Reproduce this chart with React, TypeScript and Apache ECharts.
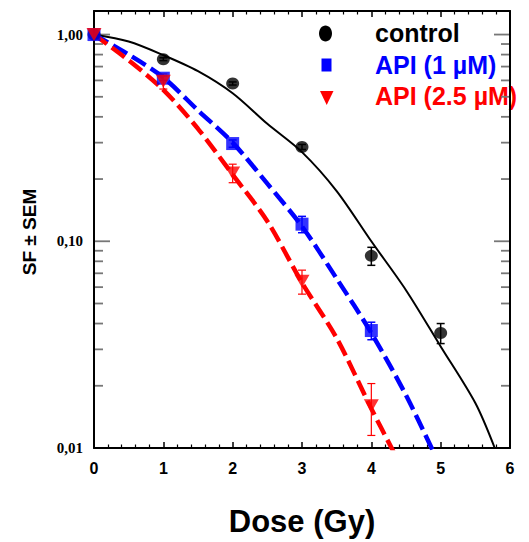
import React, { useEffect, useRef } from 'react';
import * as echarts from 'echarts';

// ---- measured data (Dose in Gy, surviving fraction) ----
const doses = [0, 1, 2, 3, 4, 5];
const controlSF = [1.0, 0.76, 0.58, 0.286, 0.085, 0.036];
const controlSEM = [0, 0.012, 0.01, 0.008, 0.0085, 0.004];

const apiDoses = [0, 1, 2, 3, 4];
const api1SF = [1.0, 0.615, 0.297, 0.121, 0.037];
const api1SEM = [0, 0.015, 0.012, 0.011, 0.0036];
const api25SF = [1.0, 0.595, 0.214, 0.064, 0.016];
const api25SEM = [0, 0.05, 0.022, 0.0085, 0.0045];

// ---- fitted curves ----
const controlFitX = [0, 0.5, 1, 1.5, 2, 2.5, 3, 3.5, 4, 4.5, 5, 5.5, 5.78];
const controlFitY = [1.0, 0.925, 0.795, 0.665, 0.52, 0.37, 0.27, 0.175, 0.1, 0.058, 0.031, 0.0165, 0.01];
const api1FitX = [0, 0.5, 1, 1.5, 2, 2.5, 3, 3.5, 4, 4.5, 4.9];
const api1FitY = [1.0, 0.8, 0.62, 0.43, 0.3, 0.19, 0.118, 0.066, 0.036, 0.018, 0.0095];
const api25FitX = [0, 0.5, 1, 1.5, 2, 2.5, 3, 3.5, 4, 4.32];
const api25FitY = [1.0, 0.75, 0.54, 0.35, 0.21, 0.125, 0.063, 0.034, 0.0155, 0.0096];

// ---- axis ticks / labels ----
const xTickValues = [0, 1, 2, 3, 4, 5, 6];
const yDecadeValues = [0.01, 0.1, 1];
const yDecadeLabels = ['0,01', '0,10', '1,00'];
const yMinorTicks = [0.02, 0.03, 0.04, 0.05, 0.06, 0.07, 0.08, 0.09, 0.2, 0.3, 0.4, 0.5, 0.6, 0.7, 0.8, 0.9];
const yMajorTicks = [0.1, 1];

const seriesNames = ['control', 'API (1 µM)', 'API (2.5 µM)'];
const seriesColors = ['#000000', '#0000ff', '#ff0000'];

const SANS = '"Liberation Sans", Arial, Helvetica, sans-serif';
const SERIF = '"Liberation Serif", "Times New Roman", serif';
const TRI_DOWN = 'path://M0,0L10,0L5,9Z';

function pairs(xs: number[], ys: number[]) {
  return xs.map((x, i) => [x, ys[i]]);
}
function errData(xs: number[], ys: number[], sem: number[]) {
  return xs
    .map((x, i) => [x, ys[i] - sem[i], ys[i] + sem[i]])
    .filter((d, i) => sem[i] > 0);
}

function errorBarSeries(name: string, data: number[][], color: string, width: number) {
  return {
    type: 'custom',
    name,
    data,
    encode: { x: 0, y: [1, 2] },
    z: 3,
    silent: true,
    renderItem: (params: any, api: any) => {
      const x = api.value(0);
      const lo = api.coord([x, api.value(1)]);
      const hi = api.coord([x, api.value(2)]);
      const cap = 4;
      const style = { stroke: color, lineWidth: width, fill: 'none' };
      return {
        type: 'group',
        children: [
          { type: 'line', shape: { x1: lo[0], y1: lo[1], x2: hi[0], y2: hi[1] }, style },
          { type: 'line', shape: { x1: hi[0] - cap, y1: hi[1], x2: hi[0] + cap, y2: hi[1] }, style },
          { type: 'line', shape: { x1: lo[0] - cap, y1: lo[1], x2: lo[0] + cap, y2: lo[1] }, style },
        ],
      };
    },
  };
}

export default function App() {
  const ref = useRef<HTMLDivElement>(null);
  useEffect(() => {
    if (!ref.current) return;
    const chart = echarts.init(ref.current, null, { renderer: 'svg' });

    const tickData = [
      ...yMinorTicks.map((v) => [0, v, 8]),
      ...yMajorTicks.map((v) => [0, v, 15]),
    ];

    const xAxisCommon = {
      type: 'value',
      min: 0,
      max: 6,
      interval: 1,
      splitLine: { show: false },
      axisLine: { show: true, onZero: false, lineStyle: { color: '#000', width: 2 } },
      axisTick: { show: true, inside: true, length: 6, lineStyle: { color: '#000', width: 1.5 } },
      minorTick: { show: true, splitNumber: 5, length: 3.5, lineStyle: { color: '#000', width: 1.2 } },
    };
    const yAxisCommon = {
      type: 'log',
      logBase: 10,
      min: 0.01,
      max: 1.3,
      splitLine: { show: false },
      minorTick: { show: false },
      minorSplitLine: { show: false },
      axisTick: { show: false },
      axisLine: { show: true, onZero: false, lineStyle: { color: '#000', width: 2 } },
    };

    const lineCommon = {
      type: 'line',
      showSymbol: false,
      smooth: 0.3,
      z: 2,
    };

    chart.setOption({
      animation: false,
      backgroundColor: '#ffffff',
      grid: { left: 94, right: 19, top: 11, bottom: 94, containLabel: false },
      xAxis: [
        {
          ...xAxisCommon,
          position: 'bottom',
          axisLabel: {
            show: true,
            margin: 12,
            color: '#000',
            fontFamily: SANS,
            fontWeight: 'bold',
            fontSize: 16,
            formatter: (v: number) => (xTickValues.includes(v) ? String(v) : ''),
          },
          name: 'Dose (Gy)',
          nameLocation: 'middle',
          nameGap: 58,
          nameTextStyle: { color: '#000', fontFamily: SANS, fontWeight: 'bold', fontSize: 31 },
        },
        {
          ...xAxisCommon,
          position: 'top',
          axisLabel: { show: false },
        },
      ],
      yAxis: [
        {
          ...yAxisCommon,
          position: 'left',
          axisLabel: {
            show: true,
            margin: 11,
            color: '#000',
            fontFamily: SERIF,
            fontWeight: 'bold',
            fontSize: 15,
            showMaxLabel: false,
            formatter: (v: number) => {
              const idx = yDecadeValues.findIndex((d) => Math.abs(d - v) / d < 1e-6);
              return idx >= 0 ? yDecadeLabels[idx] : '';
            },
          },
        },
        {
          ...yAxisCommon,
          position: 'right',
          axisLabel: { show: false },
        },
      ],
      series: [
        {
          type: 'custom',
          name: 'yticks',
          data: tickData,
          encode: { x: 0, y: 1 },
          silent: true,
          z: 1,
          renderItem: (params: any, api: any) => {
            const p = api.coord([0, api.value(1)]);
            const len = api.value(2);
            const cs = params.coordSys;
            const style = { stroke: '#777', lineWidth: 1.8 };
            return {
              type: 'group',
              children: [
                { type: 'line', shape: { x1: cs.x + 1, y1: p[1], x2: cs.x + 1 + len, y2: p[1] }, style },
                { type: 'line', shape: { x1: cs.x + cs.width - 1 - len, y1: p[1], x2: cs.x + cs.width - 1, y2: p[1] }, style },
              ],
            };
          },
        },
        {
          ...lineCommon,
          name: 'control fit',
          data: pairs(controlFitX, controlFitY),
          lineStyle: { color: seriesColors[0], width: 2 },
        },
        {
          ...lineCommon,
          name: 'API 1 fit',
          data: pairs(api1FitX, api1FitY),
          lineStyle: { color: seriesColors[1], width: 4.5, type: [16, 6] },
        },
        {
          ...lineCommon,
          name: 'API 2.5 fit',
          data: pairs(api25FitX, api25FitY),
          lineStyle: { color: seriesColors[2], width: 4.5, type: [16, 6] },
        },
        errorBarSeries('control err', errData(doses, controlSF, controlSEM), seriesColors[0], 1.5),
        errorBarSeries('API 1 err', errData(apiDoses, api1SF, api1SEM), seriesColors[1], 1.5),
        errorBarSeries('API 2.5 err', errData(apiDoses, api25SF, api25SEM), seriesColors[2], 1.2),
        {
          type: 'scatter',
          name: seriesNames[0],
          data: pairs(doses, controlSF),
          symbol: 'circle',
          symbolSize: [13, 12],
          itemStyle: { color: seriesColors[0] },
          z: 4,
        },
        {
          type: 'scatter',
          name: seriesNames[1],
          data: pairs(apiDoses, api1SF),
          symbol: 'rect',
          symbolSize: 13,
          itemStyle: { color: seriesColors[1] },
          z: 4,
        },
        {
          type: 'scatter',
          name: seriesNames[2],
          data: pairs(apiDoses, api25SF),
          symbol: TRI_DOWN,
          symbolSize: [15, 13],
          itemStyle: { color: seriesColors[2] },
          z: 4,
        },
      ],
      graphic: [
        {
          type: 'text',
          x: 29,
          y: 232,
          rotation: Math.PI / 2,
          style: {
            text: 'SF ± SEM',
            fill: '#000',
            font: `bold 19px ${SANS}`,
            align: 'center',
            verticalAlign: 'middle',
          },
        },
        { type: 'ellipse', shape: { cx: 325.5, cy: 33.5, rx: 6.5, ry: 8 }, style: { fill: seriesColors[0] } },
        { type: 'rect', shape: { x: 321.5, y: 58.5, width: 10, height: 13 }, style: { fill: seriesColors[1] } },
        { type: 'polygon', shape: { points: [[320, 91], [333.5, 91], [326.7, 105]] }, style: { fill: seriesColors[2] } },
        {
          type: 'text', x: 375, y: 33,
          style: { text: seriesNames[0], fill: seriesColors[0], font: `bold 25px ${SANS}`, verticalAlign: 'middle' },
        },
        {
          type: 'text', x: 375, y: 64.6,
          style: { text: seriesNames[1], fill: seriesColors[1], font: `bold 25px ${SANS}`, verticalAlign: 'middle' },
        },
        {
          type: 'text', x: 375, y: 96.3,
          style: { text: seriesNames[2], fill: seriesColors[2], font: `bold 25px ${SANS}`, verticalAlign: 'middle' },
        },
      ],
    });
    return () => chart.dispose();
  }, []);

  return (
    <div
      ref={ref}
      style={{ position: 'absolute', left: 0, top: 0, width: 529, height: 542, background: '#fff' }}
    />
  );
}
